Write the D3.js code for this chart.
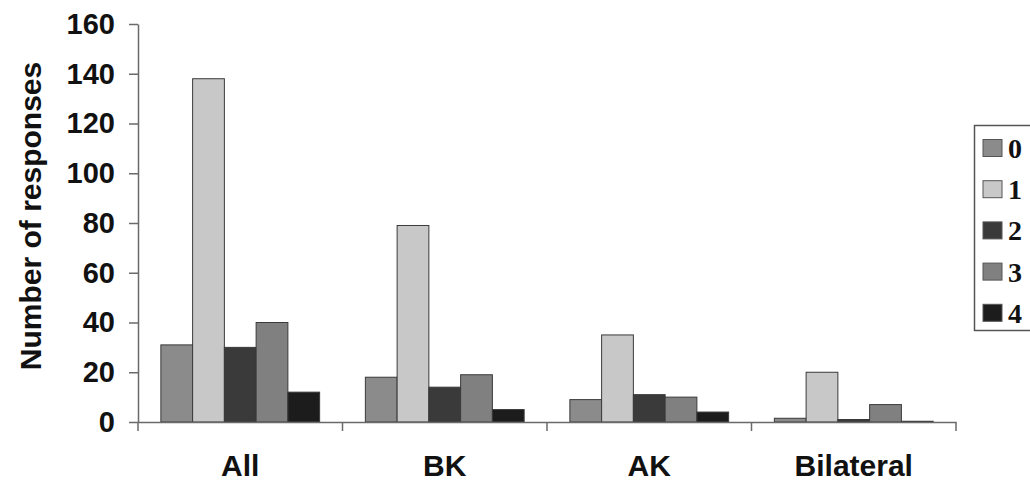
<!DOCTYPE html>
<html>
<head>
<meta charset="utf-8">
<script src="https://cdn.jsdelivr.net/npm/d3@7"></script>
<style>
  html, body { margin: 0; padding: 0; background: #fff; }
  svg { display: block; }
</style>
</head>
<body>
<svg id="chart" width="1030" height="484"></svg>
<script>
const categories = ["All", "BK", "AK", "Bilateral"];
const seriesNames = ["0", "1", "2", "3", "4"];
const values0 = [31, 18, 9, 1.5];
const values1 = [138, 79, 35, 20];
const values2 = [30, 14, 11, 1];
const values3 = [40, 19, 10, 7];
const values4 = [12, 5, 4, 0.3];
const yTicks = [0, 20, 40, 60, 80, 100, 120, 140, 160];
const colors = ["#8b8b8b", "#c8c8c8", "#3a3a3a", "#808080", "#1c1c1c"];

const allSeries = [values0, values1, values2, values3, values4];

const svg = d3.select("#chart");
const mLeft = 138, mRight = 956, mTop = 24, mBottom = 422;

const x0 = d3.scaleBand().domain(categories).range([mLeft, mRight]).paddingInner(0).paddingOuter(0);
const x1 = d3.scaleBand().domain(seriesNames).range([0, x0.bandwidth()]).paddingInner(0).paddingOuter(0.72);
const y = d3.scaleLinear().domain([0, 160]).range([mBottom, mTop]);

// bars
const groups = svg.append("g").selectAll("g")
  .data(categories)
  .join("g")
  .attr("transform", d => `translate(${x0(d)},0)`);

groups.selectAll("rect")
  .data((c, ci) => seriesNames.map((s, si) => ({ s, si, v: allSeries[si][ci] })))
  .join("rect")
  .attr("x", d => x1(d.s))
  .attr("width", x1.bandwidth())
  .attr("y", d => y(d.v))
  .attr("height", d => y(0) - y(d.v))
  .attr("fill", d => colors[d.si])
  .attr("stroke", "#3a3a3a")
  .attr("stroke-width", 1);

// y axis
const yAxis = d3.axisLeft(y).tickValues(yTicks).tickSize(9).tickPadding(14).tickSizeOuter(0);
const gy = svg.append("g").attr("transform", `translate(${mLeft},0)`).call(yAxis);
gy.select(".domain").attr("stroke", "#6a6a6a").attr("stroke-width", 1.5);
gy.selectAll(".tick line").attr("stroke", "#6a6a6a").attr("stroke-width", 1.5);
gy.selectAll(".tick text")
  .attr("font-family", "'Liberation Sans', Arial, sans-serif")
  .attr("font-weight", "bold")
  .attr("font-size", 29)
  .attr("fill", "#111");

// x axis
const xAxis = d3.axisBottom(x0).tickSize(0).tickFormat("");
const gx = svg.append("g").attr("transform", `translate(0,${mBottom})`).call(xAxis);
gx.select(".domain").attr("stroke", "#6a6a6a").attr("stroke-width", 1.5);
const bounds = categories.map(c => x0(c)).concat([x0(categories[categories.length - 1]) + x0.bandwidth()]);
gx.selectAll(".bound").data(bounds).join("line")
  .attr("class", "bound")
  .attr("x1", d => d).attr("x2", d => d)
  .attr("y1", 0).attr("y2", 9)
  .attr("stroke", "#6a6a6a").attr("stroke-width", 1.5);

svg.append("g").selectAll("text")
  .data(categories)
  .join("text")
  .attr("x", d => x0(d) + x0.bandwidth() / 2)
  .attr("y", 476)
  .attr("text-anchor", "middle")
  .attr("font-family", "'Liberation Sans', Arial, sans-serif")
  .attr("font-weight", "bold")
  .attr("font-size", 30)
  .attr("fill", "#111")
  .text(d => d);

// y title
svg.append("text")
  .attr("transform", `translate(41,${(mTop + mBottom) / 2 - 7}) rotate(-90)`)
  .attr("text-anchor", "middle")
  .attr("font-family", "'Liberation Sans', Arial, sans-serif")
  .attr("font-weight", "bold")
  .attr("font-size", 30)
  .attr("fill", "#111")
  .text("Number of responses");

// legend
const lg = svg.append("g");
lg.append("rect")
  .attr("x", 974.5).attr("y", 125.5)
  .attr("width", 80).attr("height", 205)
  .attr("fill", "#fff").attr("stroke", "#555").attr("stroke-width", 1.5);
const items = lg.selectAll("g.item").data(seriesNames).join("g")
  .attr("class", "item")
  .attr("transform", (d, i) => `translate(983,${148 + i * 41.2})`);
items.append("rect")
  .attr("x", 0).attr("y", -8.5)
  .attr("width", 19).attr("height", 17)
  .attr("fill", (d, i) => colors[i])
  .attr("stroke", "#555").attr("stroke-width", 1);
items.append("text")
  .attr("x", 25).attr("y", 10)
  .attr("font-family", "'Liberation Serif', 'Times New Roman', serif")
  .attr("font-weight", "bold")
  .attr("font-size", 28)
  .attr("fill", "#111")
  .text(d => d);
</script>
</body>
</html>
